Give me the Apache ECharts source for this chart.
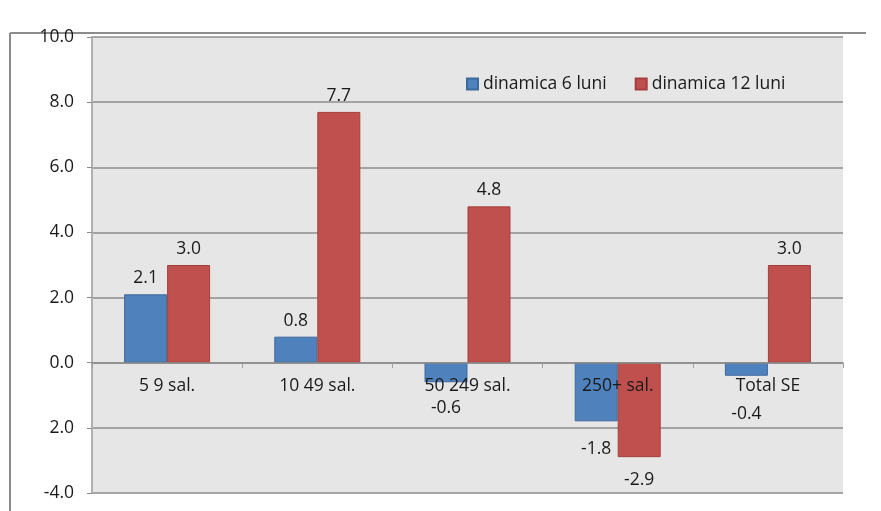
<!DOCTYPE html>
<html>
<head>
<meta charset="utf-8">
<script src="https://cdn.jsdelivr.net/npm/echarts@6/dist/echarts.min.js"></script>
<style>
  html, body { margin: 0; padding: 0; background: #ffffff; }
  #chart { width: 881px; height: 511px; }
</style>
</head>
<body>
<div id="chart"></div>
<script>
const categories = ['5 9 sal.', '10 49 sal.', '50 249 sal.', '250+ sal.', 'Total SE'];
const seriesNames = ['dinamica 6 luni', 'dinamica 12 luni'];
const dyn6 = [2.1, 0.8, -0.6, -1.8, -0.4];
const dyn12 = [3.0, 7.7, 4.8, -2.9, 3.0];
const yTickValues = [-4, -2, 0, 2, 4, 6, 8, 10];
const yTickLabels = ['-4.0', '2.0', '0.0', '2.0', '4.0', '6.0', '8.0', '10.0'];

// label placement style (distance below negative bars), separate from data
const negLabelDist6 = [17, 17, 17, 19, 29];
const negLabelDist12 = [17, 17, 17, 14, 17];

const chart = echarts.init(document.getElementById('chart'));
const FONT = '"Open Sans", "Noto Sans", sans-serif';
const FS = 17.5;

function labelCfg() {
  return {
    show: true,
    fontFamily: FONT,
    fontSize: FS,
    color: '#1a1a1a',
    formatter: p => p.value.toFixed(1),
    position: 'top',
    distance: 7
  };
}
function makeData(arr, dists) {
  return arr.map((v, i) => ({
    value: v,
    label: v < 0 ? { position: 'bottom', distance: dists[i] } : {}
  }));
}

chart.setOption({
  animation: false,
  backgroundColor: '#ffffff',
  graphic: [
    { type: 'line', shape: { x1: 10, y1: 33, x2: 866, y2: 33 }, style: { stroke: '#8c8c8c', lineWidth: 2 } },
    { type: 'line', shape: { x1: 10, y1: 33, x2: 10, y2: 511 }, style: { stroke: '#8c8c8c', lineWidth: 2 } }
  ],
  legend: {
    data: seriesNames,
    left: 461,
    top: 70,
    itemWidth: 11,
    itemHeight: 11,
    itemGap: 28,
    icon: 'rect',
    textStyle: { fontFamily: FONT, fontSize: FS, color: '#1a1a1a', padding: [0, 0, 0, 0] }
  },
  grid: {
    left: 92, right: 38, top: 37, bottom: 18,
    show: true, backgroundColor: '#e6e6e6', borderWidth: 0
  },
  xAxis: {
    type: 'category',
    data: categories,
    z: 5,
    position: 'bottom',
    offset: -130,
    axisLine: { onZero: false, lineStyle: { color: '#8c8c8c', width: 1.5 } },
    axisTick: { show: true, length: 5, lineStyle: { color: '#a0a0a0' } },
    axisLabel: { fontFamily: FONT, fontSize: FS, color: '#1a1a1a', margin: 14 }
  },
  yAxis: {
    type: 'value',
    min: -4, max: 10, interval: 2,
    axisLine: { show: true, lineStyle: { color: '#b0b0b0', width: 2 } },
    axisTick: { show: true, length: 5, lineStyle: { color: '#8c8c8c' } },
    splitLine: { lineStyle: { color: '#8c8c8c', width: 1.5 } },
    axisLabel: {
      fontFamily: FONT, fontSize: FS, color: '#1a1a1a', margin: 18,
      formatter: v => yTickLabels[yTickValues.indexOf(v)]
    }
  },
  series: [
    {
      name: seriesNames[0], type: 'bar', data: makeData(dyn6, negLabelDist6),
      barWidth: 43, barGap: '0%',
      itemStyle: { color: '#4f81bd', borderColor: '#3d6a9e', borderWidth: 1 },
      label: labelCfg()
    },
    {
      name: seriesNames[1], type: 'bar', data: makeData(dyn12, negLabelDist12),
      barWidth: 43, barGap: '0%',
      itemStyle: { color: '#c0504d', borderColor: '#a53f3c', borderWidth: 1 },
      label: labelCfg()
    }
  ]
});
</script>
</body>
</html>
